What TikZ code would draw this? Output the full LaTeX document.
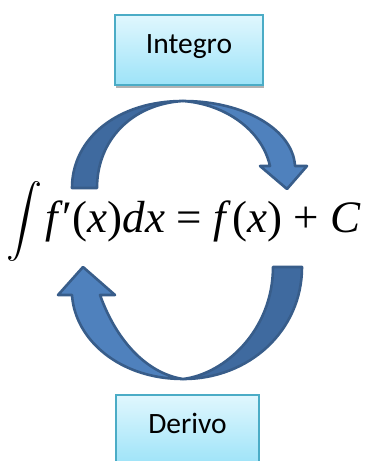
\documentclass[tikz,border=0pt]{standalone}
\usepackage{fontspec}
\usepackage{graphicx}
\newfontfamily\labelfont{Carlito}
\newfontfamily\formfont{Liberation Serif}
\usetikzlibrary{shadows}
\definecolor{arrowlight}{HTML}{4F81BD}
\definecolor{arrowdark}{HTML}{3F6A9F}
\definecolor{arrowline}{HTML}{385D8A}
\definecolor{boxborder}{HTML}{4BACC6}
\definecolor{boxtop}{HTML}{E0F7FE}
\definecolor{boxbottom}{HTML}{9DE3F8}
\tikzset{
  labelbox/.style={draw=boxborder, line width=1.3pt, top color=boxtop, bottom color=boxbottom,
    drop shadow={shadow xshift=1pt, shadow yshift=-3pt, opacity=0.3, fill=black},
    font=\labelfont\fontsize{29.5}{32}\selectfont, text height=18pt, text depth=12pt, inner sep=0pt},
  bandback/.style={fill=arrowdark, draw=arrowline, line width=2.6pt, line join=round},
  bandfront/.style={fill=arrowlight, draw=arrowline, line width=2.6pt, line join=round},
}
\begin{document}
\begin{tikzpicture}[x=1pt,y=-1pt]
\useasboundingbox (0,0) rectangle (369,461);
\clip (0,0) rectangle (369,461);
\fill[white] (0,0) rectangle (369,461);

% boxes
\node[labelbox, minimum width=148pt, minimum height=70pt] (integro) at (189,50) {Integro};
\node[labelbox, minimum width=143pt, minimum height=70pt] (derivo) at (187.5,430) {Derivo};

% top arrow: back band
\path[bandback] (72,188) .. controls (72,138) and (118,101) .. (183,101)
   .. controls (132,104) and (97,140) .. (97,188) -- cycle;
% top arrow: front band with head
\path[bandfront] (183,101) .. controls (245,101) and (293,130) .. (295,166)
   -- (307,166) -- (287,189) -- (260,166) -- (270,166)
   .. controls (262,130) and (225,104) .. (183,101) -- cycle;

% bottom arrow: back band
\path[bandback] (302,267) .. controls (302,330) and (250,379) .. (183,379)
   .. controls (225,374) and (273,330) .. (273,267) -- cycle;
% bottom arrow: front band with head
\path[bandfront] (183,379) .. controls (120,379) and (75,340) .. (72,295)
   -- (58,295) -- (83,267) -- (115,295) -- (100,295)
   .. controls (118,345) and (150,374) .. (183,379) -- cycle;

% formula
\node[inner sep=0pt] (intsign) at (25,222) {\resizebox*{!}{80pt}{$\displaystyle\int$}};
\node[anchor=base west, inner sep=0pt] (formula) at (45,232)
  {\formfont\fontsize{45}{50}\selectfont\textit{f}′(\textit{x})\textit{dx} = \textit{f}\kern2pt(\textit{x}) + \textit{C}};
\end{tikzpicture}
\end{document}
